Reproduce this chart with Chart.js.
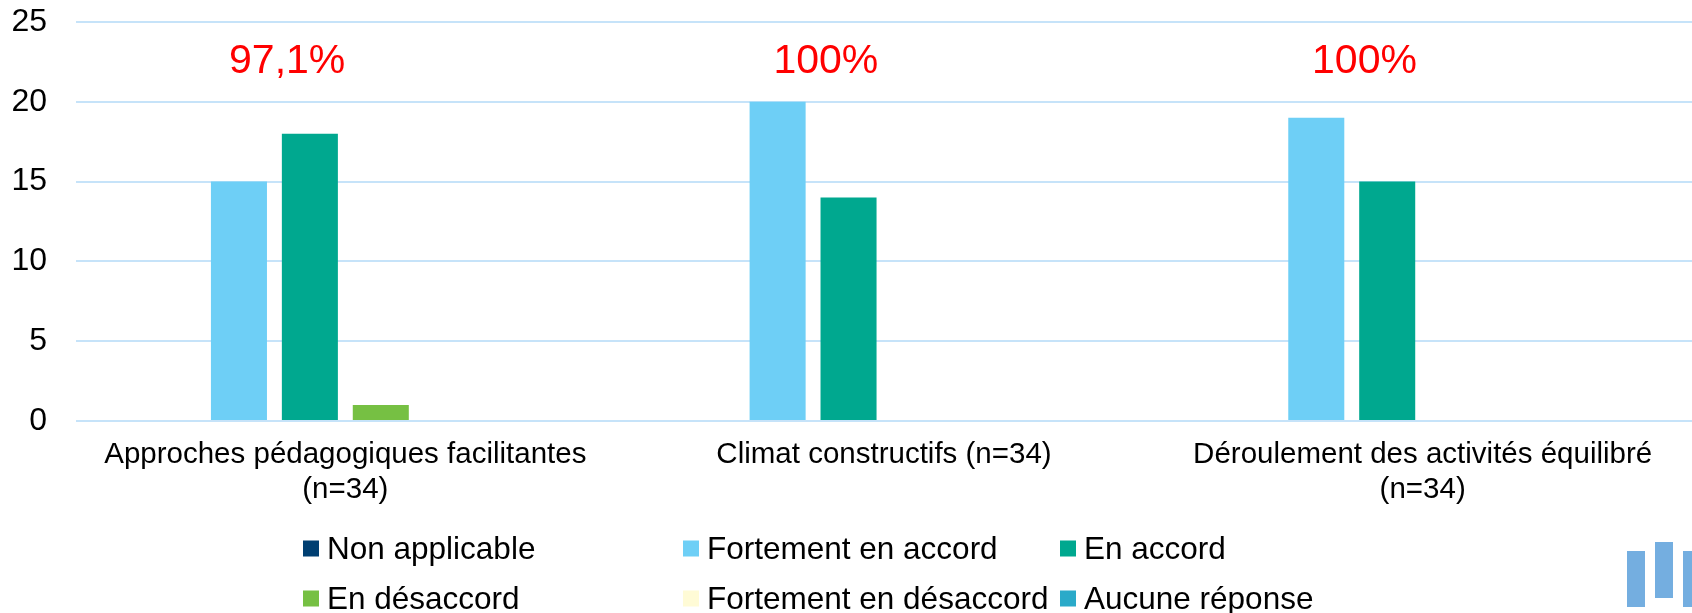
<!DOCTYPE html>
<html>
<head>
<meta charset="utf-8">
<script src="https://cdn.jsdelivr.net/npm/chart.js@4/dist/chart.umd.min.js"></script>
<style>
  html, body { margin: 0; padding: 0; background: #fff; }
  #wrap { position: relative; width: 1692px; height: 613px; overflow: hidden;
          font-family: "Liberation Sans", Arial, sans-serif; }
  #chart { display: block; }
  #legend .item { position: absolute; display: flex; align-items: center;
                  transform: translateY(-50%); font-size: 31.5px; color: #000; white-space: nowrap; }
  #legend .swatch { width: 16px; height: 16px; margin-right: 8px; flex: none; }
  .logo { position: absolute; background: #74aee0; }
</style>
</head>
<body>
<div id="wrap">
  <canvas id="chart" width="1692" height="613"></canvas>
  <div id="legend"></div>
  <div class="logo" style="left:1627px;top:551px;width:18px;height:56px"></div>
  <div class="logo" style="left:1655px;top:542px;width:18px;height:56px"></div>
  <div class="logo" style="left:1683px;top:551px;width:18px;height:56px"></div>
</div>
<script>
// categories and values
const categories = [
  ["Approches pédagogiques facilitantes", "(n=34)"],
  ["Climat constructifs (n=34)"],
  ["Déroulement des activités équilibré", "(n=34)"],
];
const nonApplicable = [0, 0, 0];
const fortementEnAccord = [15, 20, 19];
const enAccord = [18, 14, 15];
const enDesaccord = [1, 0, 0];
const fortementEnDesaccord = [0, 0, 0];
const aucuneReponse = [0, 0, 0];
const agreementLabels = ["97,1%", "100%", "100%"];
const yTicks = [0, 5, 10, 15, 20, 25];

const FONT = '"Liberation Sans", Arial, sans-serif';

const series = [
  { label: "Non applicable", data: nonApplicable, color: "#003f72" },
  { label: "Fortement en accord", data: fortementEnAccord, color: "#6ecff6" },
  { label: "En accord", data: enAccord, color: "#00a88f" },
  { label: "En désaccord", data: enDesaccord, color: "#76c043" },
  { label: "Fortement en désaccord", data: fortementEnDesaccord, color: "#fffbd6" },
  { label: "Aucune réponse", data: aucuneReponse, color: "#2aaac9" },
];

// red percentage above each group
const agreementPlugin = {
  id: "agreement",
  afterDatasetsDraw(chart) {
    const { ctx, scales: { x, y } } = chart;
    const catWidth = x.width / categories.length;
    ctx.save();
    ctx.font = "41px " + FONT;
    ctx.fillStyle = "#ff0000";
    ctx.textAlign = "center";
    ctx.textBaseline = "middle";
    agreementLabels.forEach((txt, i) => {
      ctx.fillText(txt, x.getPixelForValue(i) - catWidth * 0.108, y.getPixelForValue(22.5));
    });
    ctx.restore();
  },
};

new Chart(document.getElementById("chart"), {
  type: "bar",
  data: {
    labels: categories,
    datasets: series.map((s) => ({
      label: s.label,
      data: s.data,
      backgroundColor: s.color,
      borderWidth: 0,
      barPercentage: 0.79,
      categoryPercentage: 0.79,
    })),
  },
  options: {
    responsive: false,
    animation: false,
    layout: { padding: { top: 22, right: 0, bottom: 106, left: 0 } },
    plugins: { legend: { display: false }, tooltip: { enabled: false } },
    scales: {
      x: {
        afterFit(scale) { scale.height = 86; },
        grid: { display: false, drawTicks: false },
        border: { display: false },
        ticks: { color: "#000", font: { family: FONT, size: 29.5, lineHeight: 1.19 }, padding: 16, maxRotation: 0, autoSkip: false },
      },
      y: {
        min: 0,
        max: 25,
        afterBuildTicks(scale) { scale.ticks = yTicks.map((v) => ({ value: v })); },
        afterFit(scale) {
          scale.width = 76;
          // tick padding is meant horizontally only
          scale.paddingTop = 19;
          scale.paddingBottom = 19;
        },
        grid: { color: "#c6e3f9", lineWidth: 2, drawTicks: false },
        border: { display: false },
        ticks: { color: "#000", font: { family: FONT, size: 32 }, padding: 29 },
      },
    },
  },
  plugins: [agreementPlugin],
});

// legend laid out as a 3-column grid like the original
const legendCols = [303, 683, 1060];
const legendRows = [548, 598];
const legendEl = document.getElementById("legend");
series.forEach((s, i) => {
  const item = document.createElement("div");
  item.className = "item";
  item.style.left = legendCols[i % 3] + "px";
  item.style.top = legendRows[Math.floor(i / 3)] + "px";
  item.innerHTML = '<span class="swatch" style="background:' + s.color + '"></span><span>' + s.label + "</span>";
  legendEl.appendChild(item);
});
</script>
</body>
</html>
